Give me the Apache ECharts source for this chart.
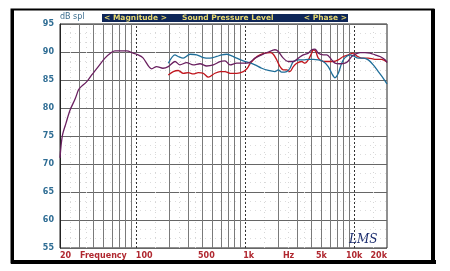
<!DOCTYPE html>
<html><head><meta charset="utf-8">
<script src="https://cdn.jsdelivr.net/npm/echarts@6/dist/echarts.min.js"></script>
<style>html,body{margin:0;padding:0;background:#fff}#c{width:450px;height:271px}</style>
</head><body><div id="c"></div>
<script>
// Purple curve (full range)
const purpleFreq = [20, 21, 22.7, 24.7, 27.5, 29.5, 30.5, 35.2, 39.1, 44.9, 51.7, 59.6, 63.9, 81.9, 93.5, 104, 115, 139, 154, 176,
  197, 227, 252, 290, 334, 385, 443, 510, 588, 653, 726, 836, 961, 1090, 1230, 1417, 1630, 1876, 2012, 2238, 2486, 2764, 3070,
  3412, 3794, 4074, 4370, 4686, 5208, 5598, 6220, 6668, 7414, 8236, 8832, 9486, 10164, 11298, 12562, 13964, 15524, 17258, 19188, 20000];
const purpleDb = [71.1, 75.0, 77.3, 79.6, 81.6, 83.2, 83.6, 84.7, 85.9, 87.4, 88.9, 89.95, 90.2, 90.2, 89.8, 89.5, 89.0, 87.0, 87.4, 87.1,
  87.4, 88.3, 87.7, 88.1, 87.7, 87.9, 87.5, 87.7, 88.3, 88.4, 87.7, 88.0, 88.0, 88.1, 88.9, 89.5, 90.0, 90.4, 90.1, 88.9, 88.3, 88.3, 88.9,
  89.5, 89.8, 90.4, 90.5, 89.8, 89.5, 89.5, 88.6, 88.0, 87.9, 88.0, 88.4, 89.2, 89.6, 89.9, 89.9, 89.8, 89.5, 89.2, 88.6, 88.1];
// Blue curve
const blueFreq = [197, 227, 243, 270, 312, 359, 413, 475, 548, 609, 677, 752, 836, 961, 1090, 1230, 1417, 1630, 1876, 2012, 2162, 2404,
  2576, 2764, 3070, 3412, 3794, 4214, 4686, 5208, 5782, 6220, 6668, 7148, 7678, 8236, 9162, 9818, 10916, 12134, 13460, 14964, 16636, 18494, 20000];
const blueDb = [88.0, 89.5, 89.2, 88.9, 89.6, 89.5, 89.0, 88.9, 89.2, 89.5, 89.6, 89.3, 88.9, 88.4, 88.1, 87.7, 87.1, 86.7, 86.5, 86.8, 86.4, 86.5,
  87.1, 88.3, 88.6, 88.6, 88.7, 88.7, 88.6, 88.3, 87.4, 86.2, 85.4, 86.2, 88.0, 89.0, 89.5, 89.3, 88.9, 88.9, 88.6, 87.7, 86.5, 85.3, 84.3];
// Red curve
const redFreq = [197, 219, 243, 270, 301, 334, 371, 413, 459, 528, 588, 653, 726, 836, 961, 1046, 1107, 1230, 1368, 1520, 1690, 1811, 1946,
  2085, 2238, 2404, 2576, 2764, 2970, 3298, 3536, 3794, 4074, 4214, 4434, 4686, 5208, 5782, 6428, 7148, 7944, 8832, 9818, 10544, 11722,
  13460, 15524, 17868, 20000];
const redDb = [85.9, 86.5, 86.7, 86.2, 86.3, 86.1, 86.3, 86.2, 85.5, 86.2, 86.5, 86.5, 86.2, 86.2, 86.5, 87.1, 87.9, 88.9, 89.5, 89.8, 89.9, 89.6, 88.6,
  87.4, 86.8, 86.8, 86.5, 87.4, 88.0, 88.3, 88.0, 88.6, 89.8, 90.4, 90.1, 88.9, 88.3, 88.3, 88.3, 88.6, 89.2, 89.5, 89.8, 89.3, 88.9,
  88.9, 88.7, 88.7, 88.2];

// Axis ticks and labels
const yMin = 55, yMax = 95, yStep = 5;
const xTickValues = [20, 50, 100, 500, 1000, 2500, 5000, 10000, 20000];
const xTickLabels = ['20', 'Frequency', '100', '500', '1k', 'Hz', '5k', '10k', '20k'];
const gridMajorFreq = [30, 40, 50, 60, 70, 80, 90, 200, 300, 400, 500, 600, 700, 800, 900, 2000, 3000, 4000, 5000, 6000, 7000, 8000, 9000];
const gridDecadeFreq = [100, 1000, 10000];
const gridMinorFreq = [25, 35, 150, 250, 350, 1500, 2500, 3500, 15000];
const titleParts = ['< Magnitude >', 'Sound Pressure Level', '< Phase >'];

const zip = (f, v) => f.map((x, i) => [x, v[i]]);
const ml = [];
gridMinorFreq.forEach(f => ml.push({xAxis: f, lineStyle: {color: '#d6d6d6', type: [1, 4], width: 1}}));
gridMajorFreq.forEach(f => ml.push({xAxis: f, lineStyle: {color: '#7a7a7a', type: 'solid', width: 1}}));
gridDecadeFreq.forEach(f => ml.push({xAxis: f, lineStyle: {color: '#333', type: [2, 2], width: 1}}));

// per-label horizontal nudges (rich padding) to mimic the original label placement
const labelRich = {
  n: {},
  r: {padding: [0, 0, 0, 16]},
  l: {padding: [0, 12, 0, 0]},
  r1: {padding: [0, 0, 0, 7]}
};
const labelStyleKey = {'100': 'r', '500': 'l', '1k': 'r1'};
const richBase = {color: '#b02830', fontSize: 8, fontWeight: 'bold', fontFamily: 'DejaVu Sans'};
Object.keys(labelRich).forEach(k => Object.assign(labelRich[k], richBase));

const chart = echarts.init(document.getElementById('c'), null, {renderer: 'canvas'});
const lineBase = {type: 'line', showSymbol: false, smooth: 0.3, animation: false, silent: true, z: 5};
chart.setOption({
  backgroundColor: '#fff',
  animation: false,
  grid: {left: 60, right: 63, top: 24, bottom: 23, show: true, borderColor: '#222', borderWidth: 1, backgroundColor: '#fff'},
  xAxis: {
    type: 'log', logBase: 10, min: 20, max: 20000,
    axisLine: {show: false}, axisTick: {show: false}, splitLine: {show: false},
    axisLabel: {
      customValues: xTickValues,
      formatter: v => {
        const i = xTickValues.findIndex(t => Math.abs(t - v) / t < 1e-6);
        if (i < 0) return '';
        const s = xTickLabels[i];
        return '{' + (labelStyleKey[s] || 'n') + '|' + s + '}';
      },
      rich: labelRich,
      color: '#b02830', fontSize: 8, fontWeight: 'bold', fontFamily: 'DejaVu Sans', margin: 4,
      alignMinLabel: 'left', alignMaxLabel: 'right', showMinLabel: true, showMaxLabel: true, hideOverlap: false
    }
  },
  yAxis: {
    type: 'value', min: yMin, max: yMax, interval: yStep,
    name: 'dB spl', nameLocation: 'end', nameGap: 3,
    nameTextStyle: {color: '#3d6e8e', fontSize: 8, fontFamily: 'DejaVu Sans', align: 'left', verticalAlign: 'bottom'},
    axisLine: {show: true, lineStyle: {color: '#222'}},
    axisTick: {show: false},
    minorTick: {show: false, splitNumber: 3},
    minorSplitLine: {show: true, lineStyle: {color: '#dcdcdc', type: [1, 4]}},
    splitLine: {show: true, lineStyle: {color: '#666', width: 1}},
    axisLabel: {color: '#2f6d94', fontSize: 8, fontWeight: 'bold', fontFamily: 'DejaVu Sans', margin: 6}
  },
  graphic: [
    {type: 'rect', shape: {x: 11.5, y: 9.5, width: 422, height: 253}, style: {fill: 'none', stroke: '#000', lineWidth: 2}, z: 10},
    {type: 'rect', shape: {x: 11, y: 10, width: 3, height: 253}, style: {fill: '#000'}, z: 10},
    {type: 'rect', shape: {x: 11, y: 260, width: 425, height: 4}, style: {fill: '#000'}, z: 10},
    {type: 'rect', shape: {x: 431, y: 9, width: 4, height: 255}, style: {fill: '#000'}, z: 10},
    {type: 'rect', shape: {x: 102, y: 14, width: 246, height: 8}, style: {fill: '#0e2658'}, z: 10},
    {type: 'text', x: 104, y: 18, style: {text: titleParts[0], fill: '#e6d870', font: 'bold 7.5px "DejaVu Sans"', textVerticalAlign: 'middle'}, z: 11},
    {type: 'text', x: 182, y: 18, style: {text: titleParts[1], fill: '#e6d870', font: 'bold 7.5px "DejaVu Sans"', textVerticalAlign: 'middle'}, z: 11},
    {type: 'text', x: 347, y: 18, style: {text: titleParts[2], fill: '#e6d870', font: 'bold 7.5px "DejaVu Sans"', textAlign: 'right', textVerticalAlign: 'middle'}, z: 11},
    {type: 'text', x: 349, y: 234, style: {text: 'LMS', fill: '#1c2d6e', font: 'italic 12px "DejaVu Serif"'}, z: 11}
  ],
  series: [
    Object.assign({}, lineBase, {name: 'grid', data: [], markLine: {silent: true, symbol: 'none', label: {show: false}, animation: false, data: ml}, z: 1}),
    Object.assign({}, lineBase, {name: 'red', data: zip(redFreq, redDb), lineStyle: {color: '#c0161e', width: 1.3}}),
    Object.assign({}, lineBase, {name: 'blue', data: zip(blueFreq, blueDb), lineStyle: {color: '#1f6e99', width: 1.3}}),
    Object.assign({}, lineBase, {name: 'purple', data: zip(purpleFreq, purpleDb), lineStyle: {color: '#6a2060', width: 1.3}})
  ]
});
</script></body></html>
